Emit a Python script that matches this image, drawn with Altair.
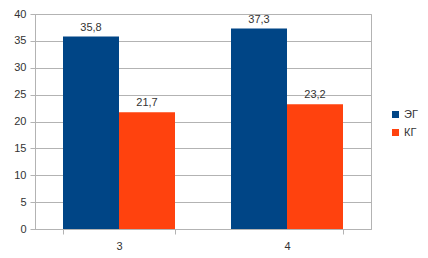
import altair as alt
import pandas as pd

categories = ["3", "4"]
series = ["ЭГ", "КГ"]
eg_values = [35.8, 37.3]
kg_values = [21.7, 23.2]

rows = []
for i, c in enumerate(categories):
    rows.append({"cat": c, "group": series[0], "value": eg_values[i]})
    rows.append({"cat": c, "group": series[1], "value": kg_values[i]})
df = pd.DataFrame(rows)

FONT = "Liberation Sans"
colors = ["#004586", "#ff420e"]

base = alt.Chart(df).transform_calculate(
    label="replace(format(datum.value, '.1f'), '.', ',')"
)

x_enc = alt.X(
    "cat:N",
    title=None,
    sort=categories,
    scale=alt.Scale(paddingInner=1/3, paddingOuter=1/6),
    axis=alt.Axis(
        labelAngle=0, tickBand="extent", domainColor="#b3b3b3", tickColor="#b3b3b3",
        tickSize=5, labelPadding=6, labelFontSize=11, labelColor="#333333",
        labelFont=FONT, grid=False,
    ),
)
xoff = alt.XOffset("group:N", sort=series)
y_enc = alt.Y(
    "value:Q",
    title=None,
    scale=alt.Scale(domain=[0, 40], nice=False),
    axis=alt.Axis(
        values=[0, 5, 10, 15, 20, 25, 30, 35, 40], gridColor="#b3b3b3",
        domainColor="#b3b3b3", tickColor="#b3b3b3", tickSize=5, labelPadding=4,
        labelFontSize=11, labelColor="#333333", labelFont=FONT,
        labelOverlap=False,
    ),
)

bars = base.mark_bar().encode(
    x=x_enc,
    xOffset=xoff,
    y=y_enc,
    color=alt.Color(
        "group:N",
        sort=series,
        scale=alt.Scale(domain=series, range=colors),
        legend=alt.Legend(
            title=None, orient="none", legendX=355, legendY=95, symbolType="square",
            symbolSize=49, symbolStrokeWidth=0, labelFontSize=11, labelFont=FONT,
            labelColor="#333333", rowPadding=6, labelOffset=3,
        ),
    ),
)

text = base.mark_text(baseline="bottom", dy=-4, fontSize=11, font=FONT, color="#333333").encode(
    x=x_enc,
    xOffset=xoff,
    y=y_enc,
    text="label:N",
)

chart = (bars + text).properties(
    width=336,
    height=215,
    autosize=alt.AutoSizeParams(type="none"),
    padding={"left": 27, "top": 6, "right": 49, "bottom": 28},
).configure_view(stroke="#b3b3b3")

chart.save("out.html", embed_options={"renderer": "svg", "actions": False})
